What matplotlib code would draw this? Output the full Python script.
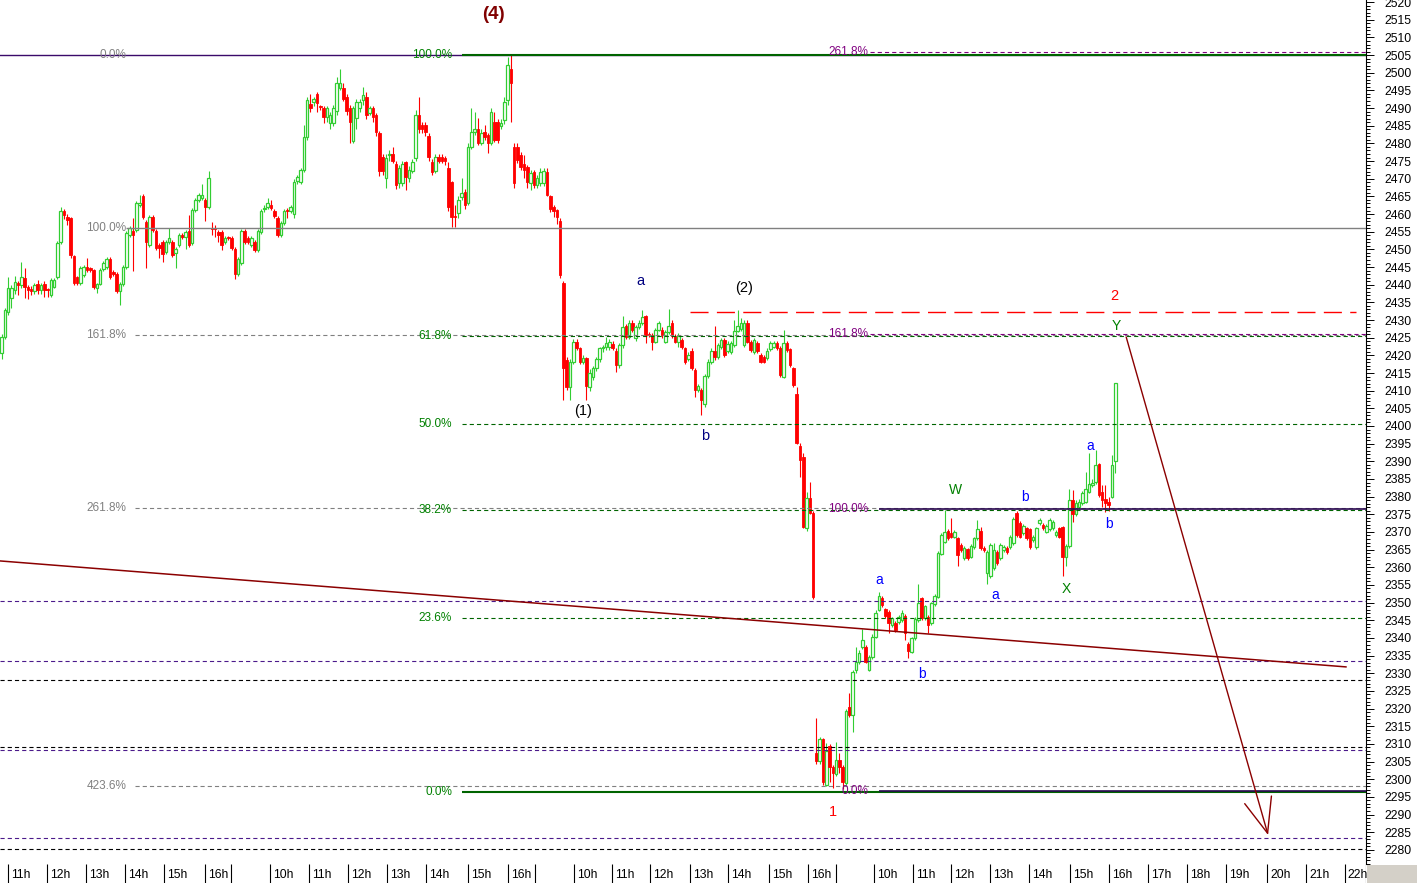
import matplotlib
matplotlib.use("Agg")
import matplotlib.pyplot as plt
from matplotlib.patches import Rectangle
from matplotlib.ticker import MultipleLocator

plt.rcParams['font.family'] = ['Liberation Sans', 'DejaVu Sans']
plt.rcParams['lines.scale_dashes'] = False

# 5-minute candles, index 0..339
opens = [
    2420.7, 2425.2, 2432.2, 2436.2, 2438.5, 2440.5, 2439.9, 2441.8, 2439.3, 2438.8,
    2438.3, 2440.2, 2438.5, 2440.2, 2438.6, 2437.1, 2439.3, 2442.2, 2452.1, 2460.8,
    2459.3, 2458.9, 2448.1, 2442.2, 2440.5, 2442.7, 2445.0, 2444.6, 2444.1, 2439.0,
    2440.2, 2444.4, 2445.0, 2447.3, 2443.6, 2443.0, 2438.2, 2440.2, 2445.0, 2454.1,
    2455.2, 2455.5, 2462.5, 2465.1, 2457.7, 2451.2, 2459.1, 2455.2, 2451.2, 2452.1,
    2449.2, 2452.1, 2452.1, 2448.9, 2451.2, 2454.1, 2453.5, 2455.2, 2451.8, 2461.1,
    2464.0, 2464.5, 2464.0, 2462.0, 2456.1, 2456.1, 2455.0, 2454.9, 2452.1, 2453.4,
    2453.2, 2450.1, 2443.0, 2446.1, 2455.2, 2453.2, 2451.2, 2452.1, 2449.8, 2454.9,
    2461.4, 2462.0, 2462.5, 2460.8, 2458.9, 2454.1, 2457.4, 2461.1, 2460.8,
    2459.9, 2469.5, 2469.2, 2472.6, 2481.9, 2491.1, 2491.8, 2494.0, 2490.4, 2489.9,
    2487.4, 2485.8, 2485.8, 2489.2, 2495.8, 2495.8, 2493.0, 2489.9, 2480.8, 2487.1,
    2489.9, 2492.3, 2493.0, 2488.7, 2489.9, 2488.0, 2483.0, 2476.2, 2470.1, 2476.6,
    2477.0, 2474.3, 2468.7, 2468.7, 2474.8, 2470.1, 2472.3, 2476.0, 2488.0, 2485.2,
    2485.2, 2482.1, 2474.8, 2472.3, 2476.2, 2476.2, 2476.0, 2472.9, 2469.2, 2459.5,
    2460.2, 2464.9, 2466.3, 2463.0, 2479.1, 2483.3, 2484.2, 2480.2, 2483.3, 2482.4,
    2480.0, 2486.1, 2486.1, 2484.9, 2486.6, 2492.3, 2501.2, 2479.1, 2479.1, 2476.7,
    2474.3, 2473.4, 2468.7, 2472.0, 2468.2, 2468.7, 2468.7, 2472.0, 2465.1, 2461.9, 2461.1, 2458.1,
    2440.4, 2418.7, 2411.1, 2418.2, 2423.9, 2422.0, 2418.2, 2419.2, 2411.1, 2414.0,
    2416.3, 2418.9, 2422.0, 2422.3, 2422.3, 2423.2, 2421.3, 2417.3, 2422.9, 2428.3,
    2425.3, 2429.2, 2424.8, 2428.1, 2429.2, 2431.1, 2426.0, 2425.8, 2423.9, 2427.2,
    2427.2, 2423.9, 2426.7, 2429.2, 2425.5, 2423.9, 2424.3, 2422.0, 2418.9, 2421.3,
    2415.9, 2410.2, 2410.2, 2406.2, 2414.1, 2418.2, 2421.3, 2419.6, 2422.3, 2424.3,
    2421.3, 2421.0, 2422.9, 2427.0, 2427.6, 2422.9, 2429.2, 2423.9, 2421.0, 2423.4,
    2420.1, 2419.6, 2419.2, 2421.7, 2422.3, 2423.4, 2422.0, 2414.0, 2423.4, 2421.7,
    2416.3, 2409.0, 2394.3, 2391.1, 2371.0, 2379.5, 2375.5,
    2307.4, 2305.3, 2311.3, 2298.4, 2309.4, 2303.6, 2301.5, 2305.5, 2303.4, 2299.0, 2320.4, 2318.2,
    2330.9, 2333.3, 2337.5, 2337.5, 2330.9, 2334.7, 2340.4, 2347.9, 2351.2, 2348.1,
    2347.4, 2343.7, 2344.3, 2344.6, 2345.1, 2346.2, 2338.3, 2336.1, 2339.9, 2345.1,
    2351.2, 2345.6, 2346.0, 2344.1, 2349.5, 2351.7, 2363.9, 2367.3, 2370.4, 2369.8,
    2368.7, 2368.2, 2366.3, 2362.6, 2365.1, 2363.0, 2365.8, 2368.2, 2370.4, 2365.4,
    2358.3, 2357.4, 2359.7, 2364.4, 2362.5, 2364.9, 2365.4, 2365.8, 2366.8, 2375.5,
    2372.6, 2369.6, 2371.0, 2370.7, 2367.7, 2365.8, 2372.4, 2372.0, 2370.1, 2370.7,
    2371.0, 2369.1, 2371.0, 2371.3, 2363.0,
    2366.0, 2379.0, 2375.0, 2377.0, 2378.1, 2378.6, 2381.4, 2383.3, 2384.2, 2389.1,
    2381.4, 2379.2, 2378.5, 2380.0, 2390.2,
]
closes = [
    2425.2, 2432.8, 2439.0, 2439.0, 2440.7, 2439.9, 2442.2, 2439.3, 2438.5, 2438.3,
    2439.9, 2438.5, 2439.9, 2438.5, 2438.4, 2441.3, 2441.3, 2451.8, 2460.8, 2459.7,
    2458.4, 2448.4, 2440.5, 2440.5, 2444.7, 2445.0, 2444.1, 2444.1, 2439.3, 2440.2,
    2444.1, 2446.1, 2447.3, 2442.2, 2443.0, 2438.2, 2440.2, 2445.0, 2454.6, 2456.0,
    2454.1, 2463.1, 2463.1, 2459.1, 2452.1, 2459.1, 2455.5, 2450.4, 2450.4, 2448.7,
    2452.1, 2453.2, 2448.4, 2450.1, 2454.1, 2453.5, 2454.9, 2451.2, 2461.1, 2464.0,
    2465.4, 2465.4, 2462.0, 2470.2, 2455.8, 2455.8, 2454.1, 2451.2, 2453.2, 2453.2,
    2450.4, 2443.0, 2447.3, 2455.2, 2452.1, 2452.1, 2453.2, 2449.8, 2455.2, 2460.8,
    2461.7, 2463.1, 2461.7, 2459.4, 2454.1, 2457.4, 2460.8, 2460.8, 2462.0,
    2469.2, 2470.5, 2472.6, 2481.9, 2492.3, 2489.9, 2492.5, 2491.3, 2490.2, 2487.4,
    2489.9, 2488.0, 2489.9, 2497.0, 2497.2, 2492.5, 2489.2, 2486.1, 2489.9, 2491.8,
    2491.8, 2493.7, 2488.0, 2489.9, 2487.4, 2483.3, 2472.3, 2472.3, 2476.0, 2476.8,
    2475.1, 2468.2, 2472.9, 2474.2, 2470.6, 2472.6, 2474.8, 2488.0, 2484.2, 2484.0,
    2483.3, 2476.2, 2472.0, 2476.2, 2475.1, 2475.1, 2475.0, 2462.1, 2459.2, 2459.2,
    2464.0, 2466.0, 2462.5, 2479.1, 2483.3, 2484.0, 2480.0, 2483.0, 2481.9, 2480.0,
    2489.0, 2481.1, 2480.9, 2485.8, 2491.8, 2502.2, 2497.2, 2468.7, 2475.3, 2473.4,
    2472.4, 2469.2, 2471.5, 2468.2, 2470.1, 2472.0, 2472.3, 2465.4, 2461.3, 2460.9, 2459.2, 2442.7,
    2416.3, 2411.1, 2418.2, 2423.9, 2422.0, 2418.2, 2419.2, 2411.3, 2415.1, 2416.3,
    2418.9, 2422.0, 2422.3, 2423.6, 2423.9, 2422.0, 2417.3, 2422.9, 2428.1, 2425.3,
    2429.2, 2427.2, 2428.1, 2429.2, 2430.9, 2425.8, 2425.8, 2423.9, 2427.2, 2429.1,
    2425.8, 2426.7, 2428.3, 2425.5, 2423.9, 2425.5, 2422.3, 2418.2, 2420.1, 2416.3,
    2410.2, 2411.3, 2407.4, 2414.1, 2418.2, 2421.3, 2419.4, 2422.9, 2424.3, 2420.1,
    2423.2, 2423.4, 2427.0, 2428.3, 2429.1, 2429.1, 2423.9, 2421.5, 2424.3, 2421.3,
    2418.2, 2418.2, 2421.3, 2423.4, 2423.4, 2422.0, 2414.4, 2423.4, 2421.5, 2417.3,
    2411.6, 2395.3, 2390.4, 2371.3, 2379.5, 2375.5, 2351.5,
    2305.3, 2311.3, 2299.3, 2308.1, 2303.6, 2301.7, 2305.5, 2303.4, 2299.3, 2319.4, 2318.2, 2330.4,
    2333.3, 2335.6, 2339.4, 2333.3, 2334.7, 2340.4, 2347.2, 2351.9, 2349.3, 2346.2,
    2344.1, 2345.6, 2342.3, 2346.0, 2347.2, 2341.3, 2336.4, 2339.9, 2345.3, 2350.0,
    2345.6, 2348.9, 2343.7, 2349.8, 2352.0, 2364.1, 2369.1, 2370.1, 2368.2, 2368.7,
    2370.1, 2363.5, 2364.9, 2365.4, 2362.6, 2366.0, 2368.2, 2370.7, 2365.4, 2364.9,
    2364.4, 2366.3, 2364.9, 2361.1, 2366.3, 2365.8, 2364.4, 2368.5, 2373.6, 2369.1,
    2368.7, 2371.7, 2368.2, 2365.8, 2368.7, 2371.0, 2373.4, 2371.0, 2371.7, 2373.4,
    2372.9, 2370.1, 2368.7, 2363.0, 2366.0,
    2379.0, 2375.0, 2378.3, 2378.6, 2381.0, 2382.1, 2383.6, 2384.0, 2388.9, 2380.5,
    2379.0, 2378.1, 2377.5, 2389.0, 2412.1,
]
highs = [
    2426.0, 2433.5, 2442.2, 2440.0, 2442.5, 2441.0, 2446.5, 2444.6, 2440.0, 2439.5,
    2440.5, 2441.3, 2440.5, 2441.0, 2439.0, 2442.0, 2442.0, 2452.5, 2462.0, 2461.5,
    2460.0, 2459.3, 2448.5, 2442.6, 2445.2, 2445.5, 2447.5, 2445.0, 2444.5, 2440.6,
    2444.6, 2446.6, 2447.8, 2447.8, 2444.1, 2443.5, 2440.7, 2445.5, 2455.1, 2456.5,
    2459.0, 2463.6, 2465.4, 2465.6, 2458.2, 2459.6, 2459.6, 2455.7, 2451.7, 2452.6,
    2452.6, 2456.0, 2452.6, 2450.6, 2454.6, 2454.6, 2455.4, 2459.7, 2461.6, 2464.5,
    2465.9, 2468.5, 2464.5, 2472.2, 2457.7, 2456.9, 2455.5, 2455.4, 2453.7, 2453.9,
    2453.7, 2450.6, 2447.8, 2455.7, 2455.7, 2453.7, 2453.7, 2452.6, 2455.7, 2461.3,
    2462.5, 2464.6, 2464.0, 2461.3, 2459.4, 2457.9, 2461.3, 2461.6, 2462.5,
    2470.0, 2471.0, 2473.0, 2485.2, 2493.1, 2494.1, 2493.0, 2494.5, 2491.0, 2490.5,
    2490.5, 2489.0, 2491.0, 2498.9, 2501.2, 2497.0, 2494.0, 2491.0, 2490.5, 2492.5,
    2492.5, 2496.0, 2494.5, 2490.5, 2490.5, 2488.5, 2483.5, 2477.0, 2477.0, 2478.0,
    2479.1, 2475.0, 2474.0, 2475.0, 2475.0, 2473.5, 2475.5, 2489.5, 2493.2, 2486.0,
    2486.0, 2483.0, 2475.5, 2477.0, 2477.0, 2477.0, 2476.5, 2474.8, 2469.5, 2462.6,
    2465.0, 2470.2, 2467.0, 2480.0, 2490.1, 2489.0, 2487.1, 2484.0, 2485.2, 2483.0,
    2490.0, 2489.0, 2487.0, 2487.0, 2493.0, 2504.5, 2505.0, 2480.0, 2480.0, 2477.5,
    2476.7, 2474.0, 2472.5, 2472.5, 2471.0, 2473.0, 2473.0, 2473.0, 2465.5, 2462.5, 2461.5, 2459.0,
    2441.0, 2419.5, 2419.0, 2424.5, 2424.5, 2422.5, 2420.0, 2419.6, 2416.0, 2417.0,
    2419.5, 2422.5, 2423.0, 2425.3, 2424.5, 2424.0, 2422.0, 2423.5, 2431.1, 2429.0,
    2430.0, 2430.0, 2428.5, 2430.0, 2432.8, 2431.5, 2426.5, 2426.3, 2427.8, 2429.8,
    2428.0, 2427.3, 2433.0, 2430.0, 2426.0, 2426.3, 2425.0, 2422.5, 2421.0, 2422.0,
    2416.5, 2412.0, 2410.8, 2414.8, 2419.0, 2422.0, 2428.3, 2423.5, 2425.0, 2425.0,
    2424.0, 2424.0, 2430.0, 2432.8, 2430.5, 2430.0, 2430.0, 2424.3, 2425.0, 2424.0,
    2420.6, 2420.0, 2422.0, 2424.0, 2424.0, 2424.0, 2422.6, 2427.2, 2424.0, 2422.2,
    2416.8, 2411.0, 2395.3, 2392.4, 2381.4, 2384.2, 2376.0,
    2317.2, 2312.0, 2311.8, 2310.2, 2310.0, 2304.0, 2310.4, 2307.4, 2304.0, 2320.0, 2324.3, 2331.0,
    2337.5, 2336.5, 2342.4, 2338.0, 2335.3, 2341.0, 2347.8, 2353.1, 2352.0, 2348.6,
    2347.9, 2346.0, 2344.8, 2346.5, 2347.8, 2346.7, 2338.8, 2340.4, 2345.8, 2355.3,
    2351.7, 2349.4, 2346.5, 2350.3, 2352.4, 2364.6, 2369.6, 2376.2, 2370.9, 2373.9,
    2370.6, 2368.7, 2366.8, 2365.9, 2365.6, 2366.5, 2368.7, 2373.5, 2371.3, 2365.9,
    2364.9, 2366.8, 2367.0, 2364.9, 2366.8, 2366.3, 2365.9, 2369.0, 2374.1, 2376.0,
    2373.1, 2372.2, 2371.5, 2371.2, 2369.2, 2371.5, 2373.9, 2372.5, 2372.2, 2373.9,
    2373.4, 2370.6, 2371.5, 2371.8, 2366.5,
    2382.1, 2381.9, 2379.0, 2379.2, 2381.5, 2387.1, 2392.3, 2385.0, 2393.2, 2389.6,
    2383.3, 2383.3, 2380.0, 2391.8, 2412.1,
]
lows = [
    2419.0, 2424.5, 2431.5, 2433.5, 2437.5, 2437.0, 2439.0, 2436.2, 2436.0, 2437.0,
    2437.5, 2437.5, 2437.5, 2436.5, 2436.5, 2436.5, 2439.0, 2441.5, 2451.5, 2458.5,
    2457.0, 2447.5, 2439.8, 2440.0, 2440.0, 2442.2, 2443.6, 2443.6, 2438.8, 2437.6,
    2439.8, 2443.9, 2444.5, 2441.7, 2442.5, 2437.7, 2434.2, 2439.7, 2444.5, 2453.6,
    2444.0, 2455.0, 2462.0, 2458.6, 2444.7, 2450.7, 2455.0, 2449.9, 2447.5, 2446.5,
    2448.7, 2451.6, 2447.9, 2444.7, 2450.7, 2453.0, 2450.0, 2450.7, 2451.3, 2460.6,
    2463.5, 2464.0, 2458.0, 2461.5, 2454.1, 2453.5, 2452.0, 2449.8, 2451.6, 2452.7,
    2449.9, 2441.5, 2442.5, 2445.6, 2451.6, 2451.6, 2450.7, 2449.3, 2449.3, 2454.4,
    2460.5, 2461.5, 2461.2, 2458.9, 2453.6, 2453.6, 2456.9, 2459.0, 2460.3,
    2459.0, 2468.5, 2468.5, 2472.0, 2481.0, 2489.0, 2490.5, 2489.0, 2489.5, 2485.7,
    2486.0, 2484.0, 2485.0, 2488.0, 2495.0, 2492.0, 2488.0, 2480.2, 2480.0, 2484.2,
    2489.0, 2491.0, 2487.0, 2488.0, 2486.0, 2482.0, 2470.8, 2471.0, 2467.3, 2475.0,
    2474.5, 2467.0, 2467.5, 2468.0, 2466.7, 2469.0, 2471.5, 2475.0, 2483.0, 2483.0,
    2482.0, 2475.0, 2471.0, 2471.5, 2474.5, 2474.5, 2474.0, 2461.0, 2456.4, 2456.4,
    2459.0, 2464.0, 2461.5, 2462.5, 2478.5, 2482.5, 2479.5, 2479.5, 2481.0, 2477.2,
    2479.5, 2480.5, 2480.0, 2484.0, 2485.5, 2491.0, 2486.1, 2467.5, 2474.5, 2472.5,
    2470.1, 2467.3, 2466.7, 2467.5, 2467.5, 2468.0, 2468.0, 2465.0, 2460.5, 2459.2, 2457.3, 2442.0,
    2407.4, 2410.2, 2407.4, 2417.5, 2421.5, 2417.5, 2417.5, 2407.4, 2410.0, 2413.0,
    2415.5, 2418.0, 2421.0, 2421.5, 2421.5, 2421.5, 2415.4, 2416.5, 2422.0, 2424.5,
    2424.5, 2426.5, 2424.0, 2427.5, 2428.5, 2423.4, 2425.3, 2421.5, 2423.5, 2426.8,
    2425.0, 2423.5, 2426.0, 2425.0, 2423.5, 2422.3, 2421.8, 2417.5, 2418.3, 2415.9,
    2408.3, 2409.5, 2403.1, 2405.5, 2413.5, 2417.5, 2418.8, 2419.0, 2421.8, 2419.6,
    2420.8, 2420.5, 2422.5, 2426.5, 2427.0, 2422.5, 2423.5, 2421.0, 2420.5, 2420.8,
    2417.7, 2417.8, 2418.8, 2421.2, 2422.0, 2421.5, 2414.0, 2413.5, 2421.0, 2416.8,
    2411.0, 2395.0, 2385.6, 2371.0, 2370.4, 2375.0, 2351.0,
    2304.3, 2304.3, 2298.4, 2298.0, 2299.3, 2297.4, 2301.0, 2301.7, 2297.2, 2298.5, 2317.5, 2313.5,
    2330.0, 2332.5, 2337.0, 2332.8, 2330.5, 2334.0, 2340.0, 2347.5, 2348.8, 2345.7,
    2341.5, 2343.2, 2341.8, 2344.0, 2344.6, 2339.4, 2334.2, 2335.6, 2339.4, 2344.6,
    2345.1, 2345.1, 2341.5, 2343.6, 2349.0, 2351.2, 2363.4, 2366.8, 2367.7, 2368.2,
    2368.2, 2360.4, 2364.4, 2362.1, 2362.1, 2362.5, 2365.3, 2367.7, 2364.9, 2364.4,
    2355.4, 2356.9, 2359.2, 2360.6, 2362.0, 2364.4, 2363.9, 2365.3, 2366.3, 2368.6,
    2368.2, 2369.1, 2367.7, 2365.3, 2367.2, 2365.3, 2371.9, 2370.5, 2369.6, 2370.2,
    2370.5, 2368.6, 2368.2, 2357.4, 2360.4,
    2365.5, 2372.9, 2374.5, 2376.5, 2377.6, 2378.1, 2381.0, 2382.8, 2383.7, 2380.0,
    2377.2, 2375.7, 2376.0, 2379.5, 2386.6,
]

# time bar: hour boundaries (in bar units) and labels
hour_edges = [1.9, 13.8, 25.7, 37.6, 49.4, 61.9, 69.8, 81.7, 93.6, 105.4, 117.3, 129.2,
              142.0, 154.1, 162.4, 174.2, 185.8, 197.4, 209.5, 221.1, 233.6, 245.5,
              254.0, 265.6, 277.4, 289.0, 300.9, 312.7, 325.2, 337.1, 349.0, 360.8,
              372.7, 385.2, 397.1, 408.9]
hour_labels = ['11h', '12h', '13h', '14h', '15h', '16h', '', '10h', '11h', '12h', '13h', '14h',
               '15h', '16h', '', '10h', '11h', '12h', '13h', '14h', '15h', '16h',
               '', '10h', '11h', '12h', '13h', '14h', '15h', '16h', '17h', '18h',
               '19h', '20h', '21h', '22h']

# fibonacci sets
grey_levels = [2505.0, 2456.0, 2425.7, 2376.9, 2298.2]
grey_names = ['0.0%', '100.0%', '161.8%', '261.8%', '423.6%']
green_levels = [2505.0, 2425.5, 2400.7, 2376.1, 2345.6, 2296.3]
green_names = ['100.0%', '61.8%', '50.0%', '38.2%', '23.6%', '0.0%']
purple_levels = [2505.9, 2426.0, 2376.5, 2296.7]
purple_names = ['261.8%', '161.8%', '100.0%', '0.0%']

violet_dashed = [2350.4, 2333.5, 2308.3, 2283.3]
black_dashed = [2328.1, 2309.2, 2280.2]
wave2_level = 2432.4

trend_x = [-0.5, 409.2]
trend_y = [2361.8, 2331.8]
arrow_from = (342.3, 2425.2)
arrow_to = (385.5, 2284.2)

waves = [
    ('(4)', 149.6, 2516.6, '#800000', True, 13.5),
    ('(1)', 177.0, 2404.2, 'black', False, 10.5),
    ('(2)', 226.0, 2439.0, 'black', False, 10.5),
    ('a', 194.3, 2441.0, '#000080', False, 10.5),
    ('b', 214.1, 2397.2, '#000080', False, 10.5),
    ('1', 253.1, 2290.7, '#ff0000', False, 10.5),
    ('2', 338.6, 2436.8, '#ff0000', False, 10.5),
    ('a', 267.1, 2356.4, '#0000ff', False, 10),
    ('b', 280.2, 2329.8, '#0000ff', False, 10),
    ('W', 290.2, 2381.9, '#008000', False, 10),
    ('a', 302.4, 2352.2, '#0000ff', False, 10),
    ('b', 311.5, 2379.9, '#0000ff', False, 10),
    ('X', 324.0, 2353.9, '#008000', False, 10),
    ('a', 331.3, 2394.3, '#0000ff', False, 10),
    ('b', 337.1, 2372.3, '#0000ff', False, 10),
    ('Y', 339.2, 2428.3, '#008000', False, 10),
]

W, H = 1417, 883
XMAX = 415.3
fig = plt.figure(figsize=(W / 100, H / 100), dpi=100)
ax = fig.add_axes([0, 19 / H, 1366 / W, 864 / H])
ax.set_xlim(-0.5, XMAX)
ax.set_ylim(2276.0, 2520.6)

# candles
up_c, dn_c = '#32cd32', '#ff0000'
for i in range(len(closes)):
    o, h, l, c = opens[i], highs[i], lows[i], closes[i]
    col = up_c if c >= o else dn_c
    ax.vlines(i, l, h, color=col, lw=0.8, zorder=2)
    bot = min(o, c)
    hgt = max(abs(c - o), 0.3)
    if c >= o:
        ax.bar(i, hgt, bottom=bot, width=0.78, facecolor='white', edgecolor=col, lw=0.9, zorder=3)
    else:
        ax.bar(i, hgt, bottom=bot, width=0.78, facecolor=col, edgecolor=col, lw=0.6, zorder=3)

dash = (0, (3, 2.2))
# plain full-width lines
for lv in violet_dashed:
    ax.axhline(lv, color='#4b1a8b', lw=0.8, ls=dash, zorder=4)
for lv in black_dashed:
    ax.axhline(lv, color='black', lw=0.8, ls=dash, zorder=4)
ax.axhline(2505.0, color='#3a0a6a', lw=1.0, zorder=4)

# grey set
for lv, nm in zip(grey_levels, grey_names):
    if nm == '100.0%':
        ax.hlines(lv, 37.9, XMAX, color='#808080', lw=1.0, zorder=4)
    elif nm != '0.0%':
        ax.hlines(lv, 40.6, XMAX, color='#808080', lw=0.8, ls=dash, zorder=4)
    ax.text(37.9, lv, nm, color='#808080', fontsize=8.5, ha='right', va='center', zorder=6)

# green set
for lv, nm in zip(green_levels, green_names):
    if nm in ('100.0%', '0.0%'):
        ax.hlines(lv, 140.1, XMAX, color='#006400', lw=1.5, zorder=4)
    else:
        ax.hlines(lv, 140.1, XMAX, color='#006400', lw=0.8, ls=dash, zorder=4)
    ax.text(137.1, lv, nm, color='#008000', fontsize=8.5, ha='right', va='center', zorder=6)

# purple set
for lv, nm in zip(purple_levels, purple_names):
    if nm in ('100.0%', '0.0%'):
        ax.hlines(lv, 267.1, XMAX, color='#2a0850', lw=1.2, zorder=4)
    else:
        ax.hlines(lv, 264.3, XMAX, color='#800080', lw=0.8, ls=dash, zorder=4)
    ax.text(263.7, lv, nm, color='#800080', fontsize=8.5, ha='right', va='center', zorder=6)

# wave (2) level
ax.hlines(wave2_level, 209.5, 412.3, color='#ff0000', lw=1.0, ls=(0, (13, 6)), zorder=4)

# trendline and projection arrow
ax.plot(trend_x, trend_y, color='#8b0000', lw=1.1, zorder=5)
ax.annotate('', xy=arrow_to, xytext=arrow_from,
            arrowprops=dict(arrowstyle='->,head_length=1.25,head_width=0.5', color='#8b0000',
                            lw=1.0, shrinkA=0, shrinkB=0, mutation_scale=20), zorder=5)

for txt, x, y, col, bold, fs in waves:
    ax.text(x, y, txt, color=col, fontsize=fs, ha='center', va='center',
            fontweight='bold' if bold else 'normal', zorder=7)

# axes styling
for s in ('top', 'left', 'bottom'):
    ax.spines[s].set_visible(False)
ax.spines['right'].set_linewidth(0.8)
ax.yaxis.tick_right()
ax.yaxis.set_major_locator(MultipleLocator(5))
ax.yaxis.set_minor_locator(MultipleLocator(1))
ax.tick_params(axis='y', which='major', length=5.8, width=0.7, labelsize=8.7, pad=7.5)
ax.tick_params(axis='y', which='minor', length=2.9, width=0.7)
ax.set_xticks([])

# time bar
axt = fig.add_axes([0, 0, 1366 / W, 19 / H])
axt.set_xlim(-0.5, XMAX)
axt.set_ylim(0, 1)
axt.axis('off')
axt.vlines(hour_edges + [XMAX], 0, 1, color='black', lw=0.8)
for e, lab in zip(hour_edges, hour_labels):
    axt.text(e + 0.9, 0.42, lab, fontsize=8.7, ha='left', va='center')

fig.add_artist(Rectangle((1367 / W, 0), 50 / W, 18 / H, transform=fig.transFigure,
                         facecolor='#d4d0c8', edgecolor='none'))

fig.savefig('out.png', dpi=100, facecolor='white')
